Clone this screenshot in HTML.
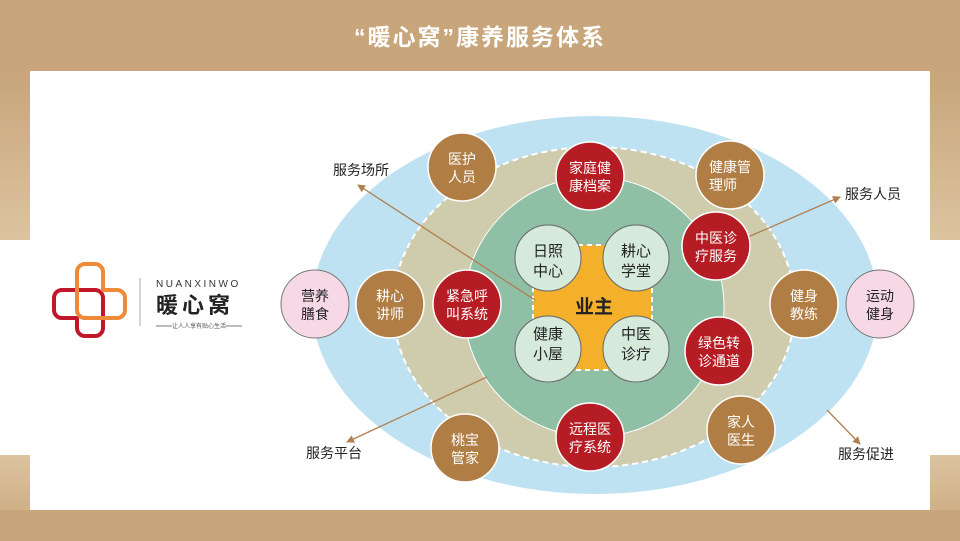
<!DOCTYPE html>
<html><head><meta charset="utf-8"><style>
html,body{margin:0;padding:0;width:960px;height:541px;overflow:hidden;background:#fff}
svg{display:block}
text{font-family:"Liberation Sans","Noto Sans CJK SC",sans-serif}
</style></head><body>
<svg width="960" height="541" viewBox="0 0 960 541" xmlns="http://www.w3.org/2000/svg">
<defs>
<linearGradient id="tg" x1="0" y1="0" x2="0" y2="1"><stop offset="0" stop-color="#c8a57a"/><stop offset="1" stop-color="#dcc4a0"/></linearGradient>
<linearGradient id="bg" x1="0" y1="0" x2="0" y2="1"><stop offset="0" stop-color="#dcc4a0"/><stop offset="1" stop-color="#c8a57a"/></linearGradient>
<marker id="ar" markerWidth="8" markerHeight="8" refX="7" refY="4" orient="auto" markerUnits="userSpaceOnUse"><path d="M0,0 L8,4 L0,8 Z" fill="#b08050"/></marker>
</defs>
<rect x="0" y="0" width="960" height="71" fill="#c8a57a"/>
<rect x="0" y="71" width="30" height="169" fill="url(#tg)"/>
<rect x="930" y="71" width="30" height="169" fill="url(#tg)"/>
<rect x="0" y="455" width="30" height="86" fill="url(#bg)"/>
<rect x="930" y="455" width="30" height="86" fill="url(#bg)"/>
<rect x="0" y="510" width="960" height="31" fill="#c8a57a"/>
<text x="480" y="45" text-anchor="middle" fill="#fff" font-size="23" font-weight="bold" letter-spacing="2">“暖心窝”康养服务体系</text>

<!-- logo -->
<g fill="none" stroke-width="4" stroke-linejoin="round">
<path d="M54,298 a8,8 0 0 1 8,-8 H95 a8,8 0 0 1 8,8 V328 a8,8 0 0 1 -8,8 h-10 a8,8 0 0 1 -8,-8 V318 H62 a8,8 0 0 1 -8,-8 Z" stroke="#c0182a"/>
<path d="M77,290 V272 a8,8 0 0 1 8,-8 h10 a8,8 0 0 1 8,8 V290 H117 a8,8 0 0 1 8,8 v12 a8,8 0 0 1 -8,8 H85 a8,8 0 0 1 -8,-8 Z" stroke="#ee8a3a"/>
</g>
<line x1="140" y1="278" x2="140" y2="326" stroke="#aaa" stroke-width="1"/>
<text x="156" y="287" font-size="10" fill="#333" letter-spacing="2.5">NUANXINWO</text>
<text x="156" y="313" font-size="22" font-weight="bold" fill="#222" letter-spacing="4">暖心窝</text>
<line x1="156" y1="326" x2="172" y2="326" stroke="#777"/>
<line x1="226" y1="326" x2="242" y2="326" stroke="#777"/>
<text x="199" y="328" text-anchor="middle" font-size="6" fill="#555">让人人享有贴心生活</text>

<!-- ellipses -->
<ellipse cx="595" cy="305" rx="283" ry="189" fill="#bfe2f3"/>
<ellipse cx="594" cy="307" rx="201" ry="160" fill="#cfcbad" stroke="#fff" stroke-width="2" stroke-dasharray="6,4"/>
<circle cx="594" cy="307" r="130" fill="#8fbfa5" stroke="#fff" stroke-width="1"/>
<rect x="533" y="245" width="119" height="125" fill="#f5b02b" stroke="#fff" stroke-width="2" stroke-dasharray="5,4"/>

<!-- arrows -->
<g stroke="#b08050" stroke-width="1.3" fill="none" marker-end="url(#ar)">
<line x1="535" y1="300" x2="358" y2="185"/>
<line x1="748" y1="237" x2="840" y2="197"/>
<line x1="487" y1="377" x2="347" y2="442"/>
<line x1="827" y1="410" x2="860" y2="444"/>
</g>
<g font-size="14" fill="#222" text-anchor="middle">
<text x="361" y="175">服务场所</text>
<text x="873" y="199">服务人员</text>
<text x="334" y="458">服务平台</text>
<text x="866" y="459">服务促进</text>
</g>

<!-- inner circles -->
<g fill="#d6eadb" stroke="#666" stroke-width="1">
<circle cx="548" cy="258" r="33"/><circle cx="636" cy="258" r="33"/>
<circle cx="548" cy="349" r="33"/><circle cx="636" cy="349" r="33"/>
</g>
<g font-size="15" fill="#222" text-anchor="middle">
<text x="548" y="256">日照</text><text x="548" y="276">中心</text>
<text x="636" y="256">耕心</text><text x="636" y="276">学堂</text>
<text x="548" y="339">健康</text><text x="548" y="359">小屋</text>
<text x="636" y="339">中医</text><text x="636" y="359">诊疗</text>
</g>
<text x="594" y="313" text-anchor="middle" font-size="19" font-weight="bold" fill="#222">业主</text>

<!-- red -->
<g fill="#b51c24" stroke="#fff" stroke-width="1.5">
<circle cx="590" cy="176" r="34"/><circle cx="716" cy="246" r="34"/>
<circle cx="719" cy="351" r="34"/><circle cx="590" cy="437" r="34"/>
<circle cx="467" cy="304" r="34"/>
</g>
<!-- brown -->
<g fill="#b07e45" stroke="#fff" stroke-width="1.5">
<circle cx="462" cy="167" r="34"/><circle cx="730" cy="175" r="34"/>
<circle cx="390" cy="304" r="34"/><circle cx="804" cy="304" r="34"/>
<circle cx="465" cy="448" r="34"/><circle cx="741" cy="430" r="34"/>
</g>
<!-- pink -->
<g fill="#f7d8e5" stroke="#777" stroke-width="1">
<circle cx="315" cy="304" r="34"/><circle cx="880" cy="304" r="34"/>
</g>
<g font-size="14" fill="#fff" text-anchor="middle">
<text x="590" y="173">家庭健</text><text x="590" y="191">康档案</text>
<text x="716" y="243">中医诊</text><text x="716" y="261">疗服务</text>
<text x="719" y="348">绿色转</text><text x="719" y="366">诊通道</text>
<text x="590" y="434">远程医</text><text x="590" y="452">疗系统</text>
<text x="467" y="301">紧急呼</text><text x="467" y="319">叫系统</text>
<text x="462" y="164">医护</text><text x="462" y="182">人员</text>
<text x="730" y="172">健康管</text><text x="723" y="190">理师</text>
<text x="390" y="301">耕心</text><text x="390" y="319">讲师</text>
<text x="804" y="301">健身</text><text x="804" y="319">教练</text>
<text x="465" y="445">桃宝</text><text x="465" y="463">管家</text>
<text x="741" y="427">家人</text><text x="741" y="445">医生</text>
</g>
<g font-size="14" fill="#222" text-anchor="middle">
<text x="315" y="301">营养</text><text x="315" y="319">膳食</text>
<text x="880" y="301">运动</text><text x="880" y="319">健身</text>
</g>
</svg>
</body></html>
